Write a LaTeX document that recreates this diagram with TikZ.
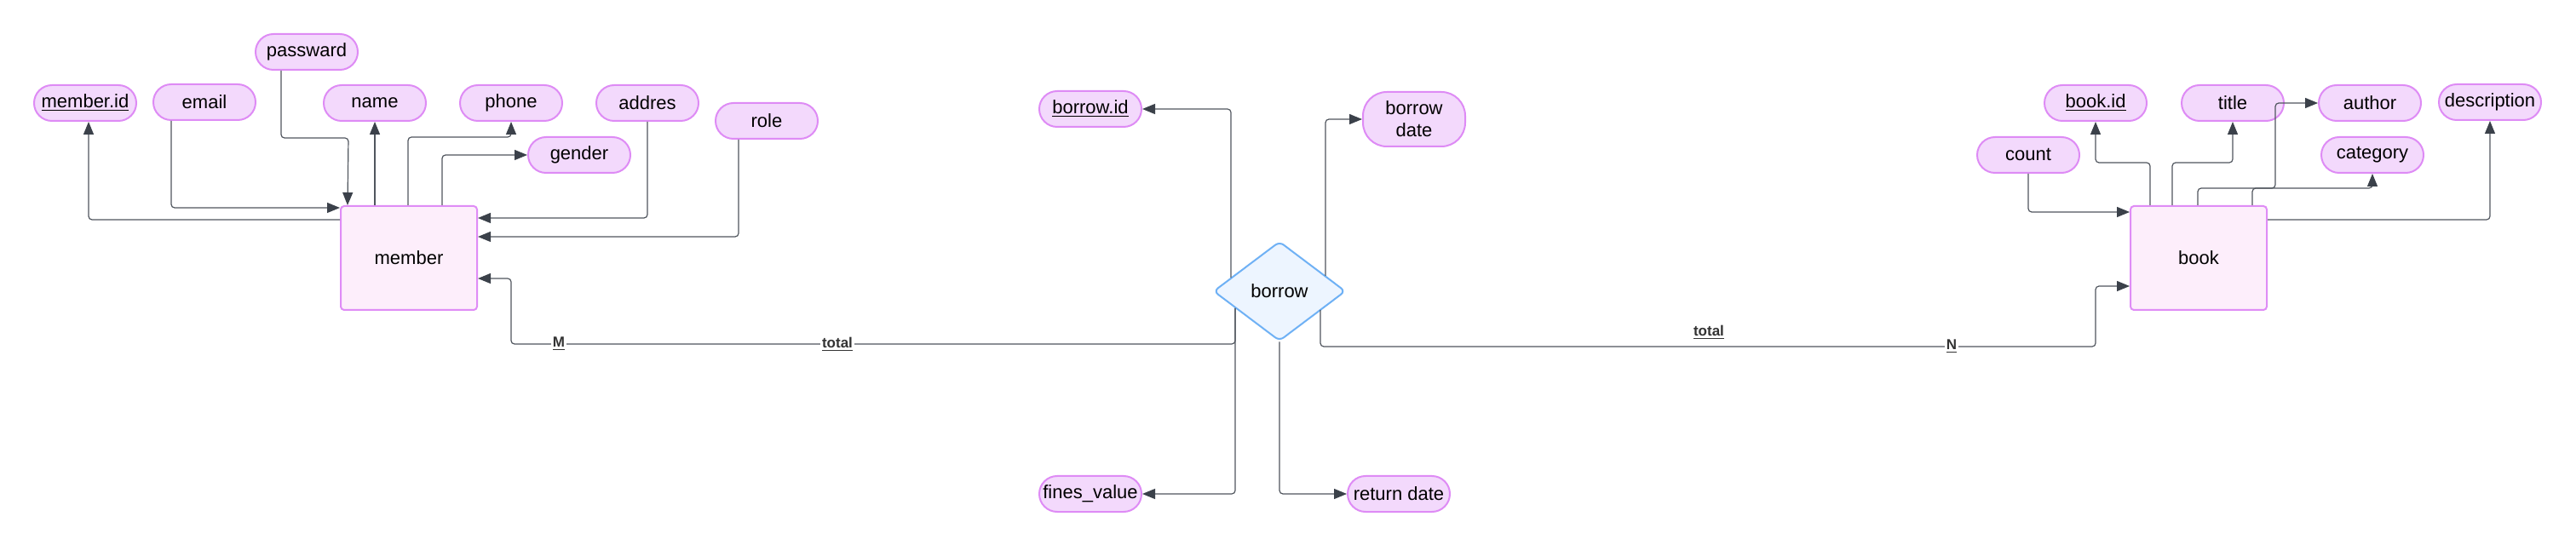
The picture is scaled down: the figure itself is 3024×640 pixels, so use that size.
\documentclass[tikz,border=0pt]{standalone}
\usepackage{fontspec}
\setmainfont{Liberation Sans}
\usetikzlibrary{arrows.meta,shapes.geometric,calc}
\definecolor{attrfill}{HTML}{F3D9FC}
\definecolor{attrdraw}{HTML}{DE8BF5}
\definecolor{entfill}{HTML}{FDEEFB}
\definecolor{entdraw}{HTML}{DF8CF6}
\definecolor{relfill}{HTML}{EDF5FF}
\definecolor{reldraw}{HTML}{6FB1F5}
\definecolor{linecol}{HTML}{50565E}
\definecolor{tipcol}{HTML}{3B414A}
\definecolor{labcol}{HTML}{333333}
\begin{document}
\begin{tikzpicture}[x=0.5pt,y=-0.5pt,
  attr/.style={draw=attrdraw,fill=attrfill,line width=1pt,rounded corners=10.5pt,
    minimum width=60pt,minimum height=21pt,inner sep=1pt,font=\fontsize{11}{13}\selectfont,align=center},
  entity/.style={draw=entdraw,fill=entfill,line width=1pt,rounded corners=2pt,
    minimum width=80pt,minimum height=61pt,font=\fontsize{11}{13}\selectfont},
  rel/.style={shape=diamond,draw=reldraw,fill=relfill,line width=1pt,rounded corners=3pt,
    minimum width=77.5pt,minimum height=58.5pt,inner sep=0pt,font=\fontsize{11}{13}\selectfont},
  conn/.style={draw=linecol,line width=0.6pt,rounded corners=2pt},
  arr/.style={conn,-{Triangle[length=7.5pt,width=6pt,fill=tipcol,color=tipcol]}},
  lab/.style={fill=white,text=labcol,inner sep=1pt,font=\fontsize{8.5}{10}\selectfont\bfseries}
]
\useasboundingbox (0,0) rectangle (3024,640);
\fill[white] (0,0) rectangle (3024,640);

% member side
\node[attr] (memberid) at (100,121) {\underline{member.id}};
\node[attr] (email) at (240,120) {email};
\node[attr] (passward) at (360,61) {passward};
\node[attr] (name) at (440,121) {name};
\node[attr] (phone) at (600,121) {phone};
\node[attr] (addres) at (760,121) {addres};
\node[attr] (role) at (900,142) {role};
\node[attr] (gender) at (680,182) {gender};
\node[entity] (member) at (480,303) {member};

% borrow
\node[rel] (borrow) at (1502,342) {borrow};
\node[attr] (borrowid) at (1280,128) {\underline{borrow.id}};
\node[attr,minimum height=32pt,rounded corners=14pt] (borrowdate) at (1660,140) {borrow\\date};
\node[attr] (finesvalue) at (1280,580) {fines\_value};
\node[attr] (returndate) at (1642,580) {return date};

% book side
\node[attr] (bookid) at (2460,121) {\underline{book.id}};
\node[attr] (title) at (2621,121) {title};
\node[attr] (author) at (2782,121) {author};
\node[attr] (description) at (2923,120) {description};
\node[attr] (count) at (2381,182) {count};
\node[attr] (category) at (2785,182) {category};
\node[entity] (book) at (2581,303) {book};

% member connectors
\draw[arr] ($(member.north west)+(0,17)$) -| ($(memberid.south)+(4,0)$);
\draw[arr] ($(email.south)+(-39,0)$) |- ($(member.north west)+(0,3)$);
\draw[arr] ($(passward.south)+(-30,0)$) |- (409,162) -- ($(member.north west)+(9,0)$);
\draw[arr] (name.south |- member.north) -- (name.south);
\draw[arr] ($(member.north west)+(80,0)$) -- ++(0,-80) -| (phone.south);
\draw[arr] ($(member.north west)+(120,0)$) |- (gender.west);
\draw[arr] (addres.south) |- ($(member.north east)+(0,15)$);
\draw[arr] ($(role.south)+(-33,0)$) |- ($(member.north east)+(0,37)$);

% borrow connectors
\draw[arr] (1445,326) |- (borrowid.east);
\draw[arr] (1556,324) |- (borrowdate.west);
\draw[arr] (1450,362) |- (finesvalue.east);
\draw[arr] (borrow.south) |- (returndate.west);
\draw[arr] (1450,362) |- (600,404) |- ($(member.east)+(0,24)$);
\draw[arr] (1550,364) |- (2460,407) |- ($(book.west)+(0,33)$);
\node[lab] (lm) at (656,404) {\underline{M}};
\node[lab] (lt1) at (983,404) {\underline{total}};
\node[lab] (lt2) at (2006,390) {\underline{total}};
\node[lab] (ln) at (2291,407) {\underline{N}};

% book connectors
\draw[arr] (count.south) |- ($(book.north west)+(0,8)$);
\draw[arr] ($(book.north west)+(24,0)$) -- ++(0,-50) -| (bookid.south);
\draw[arr] ($(book.north west)+(50,0)$) -- ++(0,-50) -| (title.south);
\draw[arr] ($(book.north west)+(80,0)$) |- (2671,221) |- (author.west);
\draw[arr] ($(book.north west)+(144,0)$) -- ++(0,-20) -| (category.south);
\draw[arr] ($(book.north east)+(0,17)$) -| (description.south);
\end{tikzpicture}
\end{document}
